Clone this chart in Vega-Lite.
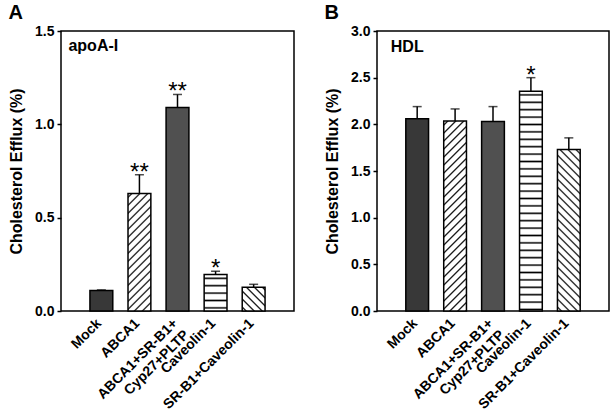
{
  "$schema": "https://vega.github.io/schema/vega-lite/v6.json",
  "background": "white",
  "padding": {"left": 7, "top": 2, "right": 0, "bottom": 0},
  "spacing": 28,
  "config": {
    "font": "Liberation Sans",
    "view": {"stroke": "#000", "strokeWidth": 1.5},
    "axis": {"grid": false, "domain": false, "labelColor": "#000", "titleColor": "#000"},
    "axisY": {"labelFontSize": 14, "labelFontWeight": "bold", "tickSize": 4, "tickWidth": 1.5, "tickColor": "#000", "labelPadding": 3, "titleFontSize": 16, "titleFontWeight": "bold", "titlePadding": 10},
    "axisX": {"labelAngle": -45, "labelAlign": "right", "labelBaseline": "top", "ticks": false, "labelPadding": 5, "labelOffset": -7, "labelFontSize": 14, "labelFontWeight": "bold", "labelLineHeight": 16, "labelExpr": "datum.label == 'ABCA1+SR-B1+Cyp27+PLTP' ? ['ABCA1+SR-B1+', 'Cyp27+PLTP\u00a0\u00a0\u00a0\u00a0\u00a0\u00a0\u00a0'] : datum.label"},
    "title": {"fontSize": 20, "fontWeight": "bold", "anchor": "start", "frame": "bounds", "offset": 1, "color": "#000"}
  },
  "datasets": {
    "efflux": [
      {"panel": "A", "group": "Mock", "value": 0.11, "upper": 0.113, "sig": ""},
      {"panel": "A", "group": "ABCA1", "value": 0.63, "upper": 0.73, "sig": "**"},
      {"panel": "A", "group": "ABCA1+SR-B1+Cyp27+PLTP", "value": 1.09, "upper": 1.16, "sig": "**"},
      {"panel": "A", "group": "Caveolin-1", "value": 0.195, "upper": 0.213, "sig": "*"},
      {"panel": "A", "group": "SR-B1+Caveolin-1", "value": 0.127, "upper": 0.143, "sig": ""},
      {"panel": "B", "group": "Mock", "value": 2.06, "upper": 2.19, "sig": ""},
      {"panel": "B", "group": "ABCA1", "value": 2.035, "upper": 2.165, "sig": ""},
      {"panel": "B", "group": "ABCA1+SR-B1+Cyp27+PLTP", "value": 2.03, "upper": 2.19, "sig": ""},
      {"panel": "B", "group": "Caveolin-1", "value": 2.355, "upper": 2.5, "sig": "*"},
      {"panel": "B", "group": "SR-B1+Caveolin-1", "value": 1.73, "upper": 1.855, "sig": ""}
    ]
  },
  "hconcat": [
    {
      "title": "A",
      "width": 233,
      "height": 280,
      "data": {"name": "efflux"},
      "transform": [{"filter": "datum.panel == 'A'"}],
      "encoding": {
        "x": {"field": "group", "type": "nominal", "title": null, "scale": {"domain": ["Mock", "ABCA1", "ABCA1+SR-B1+Cyp27+PLTP", "Caveolin-1", "SR-B1+Caveolin-1"], "paddingInner": 0.4, "paddingOuter": 0.76}},
        "y": {"field": "value", "type": "quantitative", "title": "Cholesterol Efflux (%)", "scale": {"domain": [0, 1.5], "nice": false}, "axis": {"values": [0, 0.5, 1, 1.5], "format": ".1f"}}
      },
      "layer": [
        {"transform": [{"filter": "datum.group == 'Mock'"}], "mark": {"type": "bar", "fill": "#383838", "stroke": "#000", "strokeWidth": 1.5}},
        {"transform": [{"filter": "datum.group == 'ABCA1'"}], "mark": {"type": "bar", "stroke": "#000", "strokeWidth": 1.5, "fill": {"gradient": "linear", "x1": 0, "y1": 0, "x2": 0.382, "y2": 1.9666, "stops": [
          {"offset":0.0097,"color":"#fff"},{"offset":0.0167,"color":"#000"},{"offset":0.0237,"color":"#fff"},
          {"offset":0.043,"color":"#fff"},{"offset":0.05,"color":"#000"},{"offset":0.057,"color":"#fff"},
          {"offset":0.0763,"color":"#fff"},{"offset":0.0833,"color":"#000"},{"offset":0.0903,"color":"#fff"},
          {"offset":0.1097,"color":"#fff"},{"offset":0.1167,"color":"#000"},{"offset":0.1237,"color":"#fff"},
          {"offset":0.143,"color":"#fff"},{"offset":0.15,"color":"#000"},{"offset":0.157,"color":"#fff"},
          {"offset":0.1763,"color":"#fff"},{"offset":0.1833,"color":"#000"},{"offset":0.1903,"color":"#fff"},
          {"offset":0.2097,"color":"#fff"},{"offset":0.2167,"color":"#000"},{"offset":0.2237,"color":"#fff"},
          {"offset":0.243,"color":"#fff"},{"offset":0.25,"color":"#000"},{"offset":0.257,"color":"#fff"},
          {"offset":0.2763,"color":"#fff"},{"offset":0.2833,"color":"#000"},{"offset":0.2903,"color":"#fff"},
          {"offset":0.3097,"color":"#fff"},{"offset":0.3167,"color":"#000"},{"offset":0.3237,"color":"#fff"},
          {"offset":0.343,"color":"#fff"},{"offset":0.35,"color":"#000"},{"offset":0.357,"color":"#fff"},
          {"offset":0.3763,"color":"#fff"},{"offset":0.3833,"color":"#000"},{"offset":0.3903,"color":"#fff"},
          {"offset":0.4097,"color":"#fff"},{"offset":0.4167,"color":"#000"},{"offset":0.4237,"color":"#fff"},
          {"offset":0.443,"color":"#fff"},{"offset":0.45,"color":"#000"},{"offset":0.457,"color":"#fff"},
          {"offset":0.4763,"color":"#fff"},{"offset":0.4833,"color":"#000"},{"offset":0.4903,"color":"#fff"},
          {"offset":0.5097,"color":"#fff"},{"offset":0.5167,"color":"#000"},{"offset":0.5237,"color":"#fff"},
          {"offset":0.543,"color":"#fff"},{"offset":0.55,"color":"#000"},{"offset":0.557,"color":"#fff"},
          {"offset":0.5763,"color":"#fff"},{"offset":0.5833,"color":"#000"},{"offset":0.5903,"color":"#fff"}
        ]}}},
        {"transform": [{"filter": "datum.group == 'ABCA1+SR-B1+Cyp27+PLTP'"}], "mark": {"type": "bar", "fill": "#505050", "stroke": "#000", "strokeWidth": 1.5}},
        {"transform": [{"filter": "datum.group == 'Caveolin-1'"}], "mark": {"type": "bar", "stroke": "#000", "strokeWidth": 1.5, "fill": {"gradient": "linear", "x1": 0, "y1": 0, "x2": 0, "y2": 6.0989, "stops": [
          {"offset":0.0097,"color":"#fff"},{"offset":0.0167,"color":"#000"},{"offset":0.0237,"color":"#fff"},
          {"offset":0.043,"color":"#fff"},{"offset":0.05,"color":"#000"},{"offset":0.057,"color":"#fff"},
          {"offset":0.0763,"color":"#fff"},{"offset":0.0833,"color":"#000"},{"offset":0.0903,"color":"#fff"},
          {"offset":0.1097,"color":"#fff"},{"offset":0.1167,"color":"#000"},{"offset":0.1237,"color":"#fff"},
          {"offset":0.143,"color":"#fff"},{"offset":0.15,"color":"#000"},{"offset":0.157,"color":"#fff"}
        ]}}},
        {"transform": [{"filter": "datum.group == 'SR-B1+Caveolin-1'"}], "mark": {"type": "bar", "stroke": "#000", "strokeWidth": 1.5, "fill": {"gradient": "linear", "x1": 0, "y1": 1, "x2": 5.0584, "y2": -4.2497, "stops": [
          {"offset":0.0097,"color":"#fff"},{"offset":0.0167,"color":"#000"},{"offset":0.0237,"color":"#fff"},
          {"offset":0.043,"color":"#fff"},{"offset":0.05,"color":"#000"},{"offset":0.057,"color":"#fff"},
          {"offset":0.0763,"color":"#fff"},{"offset":0.0833,"color":"#000"},{"offset":0.0903,"color":"#fff"},
          {"offset":0.1097,"color":"#fff"},{"offset":0.1167,"color":"#000"},{"offset":0.1237,"color":"#fff"},
          {"offset":0.143,"color":"#fff"},{"offset":0.15,"color":"#000"},{"offset":0.157,"color":"#fff"},
          {"offset":0.1763,"color":"#fff"},{"offset":0.1833,"color":"#000"},{"offset":0.1903,"color":"#fff"}
        ]}}},
        {"mark": {"type": "rule", "color": "#000", "strokeWidth": 1.5}, "encoding": {"y2": {"field": "upper"}}},
        {"mark": {"type": "tick", "color": "#000", "size": 9, "thickness": 1.5}, "encoding": {"y": {"field": "upper", "type": "quantitative", "title": "Cholesterol Efflux (%)"}}},
        {"mark": {"type": "text", "fontSize": 24, "baseline": "alphabetic", "dy": 5, "color": "#000"}, "encoding": {"y": {"field": "upper", "type": "quantitative", "title": "Cholesterol Efflux (%)"}, "text": {"field": "sig"}}},
        {"transform": [{"filter": "datum.group == 'Mock'"}], "mark": {"type": "text", "fontSize": 16, "fontWeight": "bold", "align": "left", "baseline": "alphabetic", "dx": -21.5, "dy": 20, "color": "#000"}, "encoding": {"x": {"field": "group", "type": "nominal", "bandPosition": 0}, "y": {"datum": 1.5}, "text": {"value": "apoA-I"}}}
      ]
    },
    {
      "title": "B",
      "width": 232,
      "height": 280,
      "data": {"name": "efflux"},
      "transform": [{"filter": "datum.panel == 'B'"}],
      "encoding": {
        "x": {"field": "group", "type": "nominal", "title": null, "scale": {"domain": ["Mock", "ABCA1", "ABCA1+SR-B1+Cyp27+PLTP", "Caveolin-1", "SR-B1+Caveolin-1"], "paddingInner": 0.4, "paddingOuter": 0.76}},
        "y": {"field": "value", "type": "quantitative", "title": "Cholesterol Efflux (%)", "scale": {"domain": [0, 3], "nice": false}, "axis": {"values": [0, 0.5, 1, 1.5, 2, 2.5, 3], "format": ".1f"}}
      },
      "layer": [
        {"transform": [{"filter": "datum.group == 'Mock'"}], "mark": {"type": "bar", "fill": "#383838", "stroke": "#000", "strokeWidth": 1.5}},
        {"transform": [{"filter": "datum.group == 'ABCA1'"}], "mark": {"type": "bar", "stroke": "#000", "strokeWidth": 1.5, "fill": {"gradient": "linear", "x1": 0, "y1": 0, "x2": 0.1492, "y2": 1.2458, "stops": [
          {"offset":0.0097,"color":"#fff"},{"offset":0.0167,"color":"#000"},{"offset":0.0237,"color":"#fff"},
          {"offset":0.043,"color":"#fff"},{"offset":0.05,"color":"#000"},{"offset":0.057,"color":"#fff"},
          {"offset":0.0763,"color":"#fff"},{"offset":0.0833,"color":"#000"},{"offset":0.0903,"color":"#fff"},
          {"offset":0.1097,"color":"#fff"},{"offset":0.1167,"color":"#000"},{"offset":0.1237,"color":"#fff"},
          {"offset":0.143,"color":"#fff"},{"offset":0.15,"color":"#000"},{"offset":0.157,"color":"#fff"},
          {"offset":0.1763,"color":"#fff"},{"offset":0.1833,"color":"#000"},{"offset":0.1903,"color":"#fff"},
          {"offset":0.2097,"color":"#fff"},{"offset":0.2167,"color":"#000"},{"offset":0.2237,"color":"#fff"},
          {"offset":0.243,"color":"#fff"},{"offset":0.25,"color":"#000"},{"offset":0.257,"color":"#fff"},
          {"offset":0.2763,"color":"#fff"},{"offset":0.2833,"color":"#000"},{"offset":0.2903,"color":"#fff"},
          {"offset":0.3097,"color":"#fff"},{"offset":0.3167,"color":"#000"},{"offset":0.3237,"color":"#fff"},
          {"offset":0.343,"color":"#fff"},{"offset":0.35,"color":"#000"},{"offset":0.357,"color":"#fff"},
          {"offset":0.3763,"color":"#fff"},{"offset":0.3833,"color":"#000"},{"offset":0.3903,"color":"#fff"},
          {"offset":0.4097,"color":"#fff"},{"offset":0.4167,"color":"#000"},{"offset":0.4237,"color":"#fff"},
          {"offset":0.443,"color":"#fff"},{"offset":0.45,"color":"#000"},{"offset":0.457,"color":"#fff"},
          {"offset":0.4763,"color":"#fff"},{"offset":0.4833,"color":"#000"},{"offset":0.4903,"color":"#fff"},
          {"offset":0.5097,"color":"#fff"},{"offset":0.5167,"color":"#000"},{"offset":0.5237,"color":"#fff"},
          {"offset":0.543,"color":"#fff"},{"offset":0.55,"color":"#000"},{"offset":0.557,"color":"#fff"},
          {"offset":0.5763,"color":"#fff"},{"offset":0.5833,"color":"#000"},{"offset":0.5903,"color":"#fff"},
          {"offset":0.6097,"color":"#fff"},{"offset":0.6167,"color":"#000"},{"offset":0.6237,"color":"#fff"},
          {"offset":0.643,"color":"#fff"},{"offset":0.65,"color":"#000"},{"offset":0.657,"color":"#fff"},
          {"offset":0.6763,"color":"#fff"},{"offset":0.6833,"color":"#000"},{"offset":0.6903,"color":"#fff"},
          {"offset":0.7097,"color":"#fff"},{"offset":0.7167,"color":"#000"},{"offset":0.7237,"color":"#fff"},
          {"offset":0.743,"color":"#fff"},{"offset":0.75,"color":"#000"},{"offset":0.757,"color":"#fff"},
          {"offset":0.7763,"color":"#fff"},{"offset":0.7833,"color":"#000"},{"offset":0.7903,"color":"#fff"},
          {"offset":0.8097,"color":"#fff"},{"offset":0.8167,"color":"#000"},{"offset":0.8237,"color":"#fff"},
          {"offset":0.843,"color":"#fff"},{"offset":0.85,"color":"#000"},{"offset":0.857,"color":"#fff"},
          {"offset":0.8763,"color":"#fff"},{"offset":0.8833,"color":"#000"},{"offset":0.8903,"color":"#fff"}
        ]}}},
        {"transform": [{"filter": "datum.group == 'ABCA1+SR-B1+Cyp27+PLTP'"}], "mark": {"type": "bar", "fill": "#505050", "stroke": "#000", "strokeWidth": 1.5}},
        {"transform": [{"filter": "datum.group == 'Caveolin-1'"}], "mark": {"type": "bar", "stroke": "#000", "strokeWidth": 1.5, "fill": {"gradient": "linear", "x1": 0, "y1": 0, "x2": 0, "y2": 1.01, "stops": [
          {"offset":0.0097,"color":"#fff"},{"offset":0.0167,"color":"#000"},{"offset":0.0237,"color":"#fff"},
          {"offset":0.043,"color":"#fff"},{"offset":0.05,"color":"#000"},{"offset":0.057,"color":"#fff"},
          {"offset":0.0763,"color":"#fff"},{"offset":0.0833,"color":"#000"},{"offset":0.0903,"color":"#fff"},
          {"offset":0.1097,"color":"#fff"},{"offset":0.1167,"color":"#000"},{"offset":0.1237,"color":"#fff"},
          {"offset":0.143,"color":"#fff"},{"offset":0.15,"color":"#000"},{"offset":0.157,"color":"#fff"},
          {"offset":0.1763,"color":"#fff"},{"offset":0.1833,"color":"#000"},{"offset":0.1903,"color":"#fff"},
          {"offset":0.2097,"color":"#fff"},{"offset":0.2167,"color":"#000"},{"offset":0.2237,"color":"#fff"},
          {"offset":0.243,"color":"#fff"},{"offset":0.25,"color":"#000"},{"offset":0.257,"color":"#fff"},
          {"offset":0.2763,"color":"#fff"},{"offset":0.2833,"color":"#000"},{"offset":0.2903,"color":"#fff"},
          {"offset":0.3097,"color":"#fff"},{"offset":0.3167,"color":"#000"},{"offset":0.3237,"color":"#fff"},
          {"offset":0.343,"color":"#fff"},{"offset":0.35,"color":"#000"},{"offset":0.357,"color":"#fff"},
          {"offset":0.3763,"color":"#fff"},{"offset":0.3833,"color":"#000"},{"offset":0.3903,"color":"#fff"},
          {"offset":0.4097,"color":"#fff"},{"offset":0.4167,"color":"#000"},{"offset":0.4237,"color":"#fff"},
          {"offset":0.443,"color":"#fff"},{"offset":0.45,"color":"#000"},{"offset":0.457,"color":"#fff"},
          {"offset":0.4763,"color":"#fff"},{"offset":0.4833,"color":"#000"},{"offset":0.4903,"color":"#fff"},
          {"offset":0.5097,"color":"#fff"},{"offset":0.5167,"color":"#000"},{"offset":0.5237,"color":"#fff"},
          {"offset":0.543,"color":"#fff"},{"offset":0.55,"color":"#000"},{"offset":0.557,"color":"#fff"},
          {"offset":0.5763,"color":"#fff"},{"offset":0.5833,"color":"#000"},{"offset":0.5903,"color":"#fff"},
          {"offset":0.6097,"color":"#fff"},{"offset":0.6167,"color":"#000"},{"offset":0.6237,"color":"#fff"},
          {"offset":0.643,"color":"#fff"},{"offset":0.65,"color":"#000"},{"offset":0.657,"color":"#fff"},
          {"offset":0.6763,"color":"#fff"},{"offset":0.6833,"color":"#000"},{"offset":0.6903,"color":"#fff"},
          {"offset":0.7097,"color":"#fff"},{"offset":0.7167,"color":"#000"},{"offset":0.7237,"color":"#fff"},
          {"offset":0.743,"color":"#fff"},{"offset":0.75,"color":"#000"},{"offset":0.757,"color":"#fff"},
          {"offset":0.7763,"color":"#fff"},{"offset":0.7833,"color":"#000"},{"offset":0.7903,"color":"#fff"},
          {"offset":0.8097,"color":"#fff"},{"offset":0.8167,"color":"#000"},{"offset":0.8237,"color":"#fff"},
          {"offset":0.843,"color":"#fff"},{"offset":0.85,"color":"#000"},{"offset":0.857,"color":"#fff"},
          {"offset":0.8763,"color":"#fff"},{"offset":0.8833,"color":"#000"},{"offset":0.8903,"color":"#fff"},
          {"offset":0.9097,"color":"#fff"},{"offset":0.9167,"color":"#000"},{"offset":0.9237,"color":"#fff"},
          {"offset":0.943,"color":"#fff"},{"offset":0.95,"color":"#000"},{"offset":0.957,"color":"#fff"},
          {"offset":0.9763,"color":"#fff"},{"offset":0.9833,"color":"#000"},{"offset":0.9903,"color":"#fff"}
        ]}}},
        {"transform": [{"filter": "datum.group == 'SR-B1+Caveolin-1'"}], "mark": {"type": "bar", "stroke": "#000", "strokeWidth": 1.5, "fill": {"gradient": "linear", "x1": 0, "y1": 1, "x2": 0.2053, "y2": -0.4574, "stops": [
          {"offset":0.0097,"color":"#fff"},{"offset":0.0167,"color":"#000"},{"offset":0.0237,"color":"#fff"},
          {"offset":0.043,"color":"#fff"},{"offset":0.05,"color":"#000"},{"offset":0.057,"color":"#fff"},
          {"offset":0.0763,"color":"#fff"},{"offset":0.0833,"color":"#000"},{"offset":0.0903,"color":"#fff"},
          {"offset":0.1097,"color":"#fff"},{"offset":0.1167,"color":"#000"},{"offset":0.1237,"color":"#fff"},
          {"offset":0.143,"color":"#fff"},{"offset":0.15,"color":"#000"},{"offset":0.157,"color":"#fff"},
          {"offset":0.1763,"color":"#fff"},{"offset":0.1833,"color":"#000"},{"offset":0.1903,"color":"#fff"},
          {"offset":0.2097,"color":"#fff"},{"offset":0.2167,"color":"#000"},{"offset":0.2237,"color":"#fff"},
          {"offset":0.243,"color":"#fff"},{"offset":0.25,"color":"#000"},{"offset":0.257,"color":"#fff"},
          {"offset":0.2763,"color":"#fff"},{"offset":0.2833,"color":"#000"},{"offset":0.2903,"color":"#fff"},
          {"offset":0.3097,"color":"#fff"},{"offset":0.3167,"color":"#000"},{"offset":0.3237,"color":"#fff"},
          {"offset":0.343,"color":"#fff"},{"offset":0.35,"color":"#000"},{"offset":0.357,"color":"#fff"},
          {"offset":0.3763,"color":"#fff"},{"offset":0.3833,"color":"#000"},{"offset":0.3903,"color":"#fff"},
          {"offset":0.4097,"color":"#fff"},{"offset":0.4167,"color":"#000"},{"offset":0.4237,"color":"#fff"},
          {"offset":0.443,"color":"#fff"},{"offset":0.45,"color":"#000"},{"offset":0.457,"color":"#fff"},
          {"offset":0.4763,"color":"#fff"},{"offset":0.4833,"color":"#000"},{"offset":0.4903,"color":"#fff"},
          {"offset":0.5097,"color":"#fff"},{"offset":0.5167,"color":"#000"},{"offset":0.5237,"color":"#fff"},
          {"offset":0.543,"color":"#fff"},{"offset":0.55,"color":"#000"},{"offset":0.557,"color":"#fff"},
          {"offset":0.5763,"color":"#fff"},{"offset":0.5833,"color":"#000"},{"offset":0.5903,"color":"#fff"},
          {"offset":0.6097,"color":"#fff"},{"offset":0.6167,"color":"#000"},{"offset":0.6237,"color":"#fff"},
          {"offset":0.643,"color":"#fff"},{"offset":0.65,"color":"#000"},{"offset":0.657,"color":"#fff"},
          {"offset":0.6763,"color":"#fff"},{"offset":0.6833,"color":"#000"},{"offset":0.6903,"color":"#fff"},
          {"offset":0.7097,"color":"#fff"},{"offset":0.7167,"color":"#000"},{"offset":0.7237,"color":"#fff"},
          {"offset":0.743,"color":"#fff"},{"offset":0.75,"color":"#000"},{"offset":0.757,"color":"#fff"}
        ]}}},
        {"mark": {"type": "rule", "color": "#000", "strokeWidth": 1.5}, "encoding": {"y2": {"field": "upper"}}},
        {"mark": {"type": "tick", "color": "#000", "size": 9, "thickness": 1.5}, "encoding": {"y": {"field": "upper", "type": "quantitative", "title": "Cholesterol Efflux (%)"}}},
        {"mark": {"type": "text", "fontSize": 24, "baseline": "alphabetic", "dy": 5, "color": "#000"}, "encoding": {"y": {"field": "upper", "type": "quantitative", "title": "Cholesterol Efflux (%)"}, "text": {"field": "sig"}}},
        {"transform": [{"filter": "datum.group == 'Mock'"}], "mark": {"type": "text", "fontSize": 16, "fontWeight": "bold", "align": "left", "baseline": "alphabetic", "dx": -15, "dy": 21, "color": "#000"}, "encoding": {"x": {"field": "group", "type": "nominal", "bandPosition": 0}, "y": {"datum": 3}, "text": {"value": "HDL"}}}
      ]
    }
  ]
}
